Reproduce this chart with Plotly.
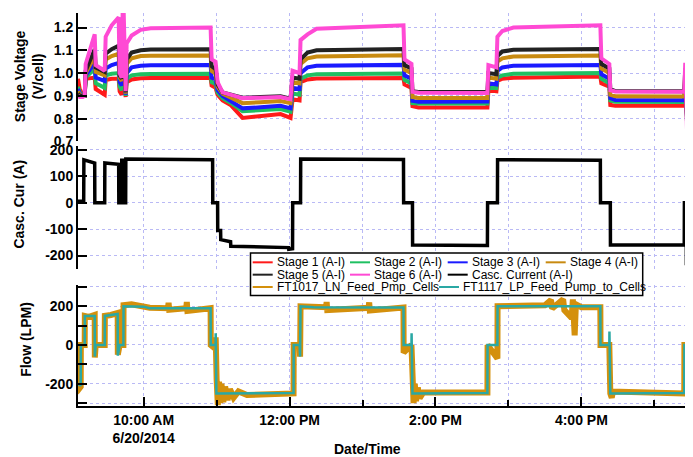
import plotly.graph_objects as go

DAY = "2014-06-20 "

# ---------------- Stage voltages (V/cell) ----------------
V_TIME = ["09:06:00", "09:07:24", "09:09:52", "09:11:30", "09:12:19", "09:19:44", "09:20:33",
          "09:27:57", "09:28:46", "09:33:42", "09:39:27", "09:40:16", "09:41:55", "09:42:44",
          "09:43:34", "09:44:23", "09:45:12", "09:46:01", "09:50:08", "09:57:32", "10:05:45",
          "10:55:04", "10:55:53", "10:59:10", "11:00:49", "11:04:56", "11:11:30", "11:21:22",
          "11:36:10", "11:52:36", "12:00:49", "12:02:28", "12:08:13", "12:09:02", "12:14:47",
          "12:22:11", "13:33:42", "13:34:31", "13:40:16", "13:41:05", "13:46:01", "14:42:44",
          "14:43:33", "14:50:08", "14:50:58", "14:55:00", "15:04:06", "16:15:37", "16:16:26",
          "16:23:00", "16:23:49", "16:27:56", "17:24:38", "17:25:27", "17:27:05", "17:28:44",
          "17:31:00"]
STAGE1 = [0.975, 0.930, 0.900, 0.900, 0.975, 0.980, 0.930, 0.905, 0.970, 0.975, 0.975, 0.920,
          0.905, 0.980, 0.975, 0.895, 0.895, 0.960, 0.972, 0.977, 0.978, 0.978, 0.945, 0.935,
          0.905, 0.880, 0.860, 0.803, 0.810, 0.820, 0.803, 0.885, 0.880, 0.960, 0.972, 0.976,
          0.978, 0.950, 0.935, 0.855, 0.849, 0.849, 0.925, 0.920, 0.965, 0.975, 0.980, 0.985,
          0.955, 0.940, 0.860, 0.857, 0.856, 0.940, 0.800, 0.850, 0.880]
STAGE2 = [0.940, 0.915, 0.900, 0.900, 0.980, 1.020, 0.955, 0.935, 0.990, 0.997, 1.000, 0.940,
          0.925, 1.010, 1.000, 0.900, 0.900, 0.975, 0.990, 0.995, 0.996, 0.997, 0.960, 0.952,
          0.915, 0.890, 0.870, 0.833, 0.838, 0.842, 0.830, 0.910, 0.905, 0.975, 0.990, 0.995,
          0.998, 0.970, 0.955, 0.868, 0.866, 0.866, 0.940, 0.935, 0.980, 0.990, 0.997, 1.000,
          0.975, 0.955, 0.880, 0.874, 0.873, 0.960, 0.790, 0.855, 0.885]
STAGE3 = [0.930, 0.910, 0.900, 0.900, 0.990, 1.045, 0.980, 0.965, 1.020, 1.035, 1.045, 0.960,
          0.945, 1.050, 1.040, 0.905, 0.905, 1.000, 1.025, 1.032, 1.034, 1.035, 0.980, 0.972,
          0.925, 0.900, 0.880, 0.845, 0.850, 0.856, 0.845, 0.935, 0.930, 1.000, 1.025, 1.032,
          1.036, 0.990, 0.975, 0.878, 0.874, 0.875, 0.955, 0.950, 1.010, 1.025, 1.032, 1.035,
          0.995, 0.975, 0.890, 0.882, 0.881, 0.980, 0.780, 0.860, 0.890]
STAGE4 = [0.920, 0.905, 0.900, 0.900, 1.000, 1.075, 1.005, 0.990, 1.060, 1.075, 1.085, 0.980,
          0.965, 1.090, 1.080, 0.910, 0.910, 1.040, 1.065, 1.075, 1.076, 1.077, 1.010, 0.998,
          0.940, 0.910, 0.895, 0.868, 0.872, 0.877, 0.868, 0.960, 0.955, 1.040, 1.065, 1.073,
          1.078, 1.015, 1.000, 0.895, 0.891, 0.891, 0.980, 0.975, 1.050, 1.065, 1.073, 1.077,
          1.020, 1.000, 0.905, 0.898, 0.897, 1.000, 0.770, 0.865, 0.895]
STAGE5 = [0.910, 0.900, 0.898, 0.900, 1.010, 1.105, 1.025, 1.005, 1.085, 1.105, 1.120, 0.990,
          0.975, 1.130, 1.120, 0.915, 0.915, 1.060, 1.090, 1.100, 1.104, 1.105, 1.030, 1.018,
          0.950, 0.915, 0.905, 0.892, 0.895, 0.898, 0.888, 0.980, 0.975, 1.060, 1.090, 1.100,
          1.106, 1.035, 1.020, 0.920, 0.917, 0.917, 1.000, 0.995, 1.075, 1.095, 1.102, 1.106,
          1.040, 1.020, 0.930, 0.921, 0.920, 1.020, 0.750, 0.870, 0.900]
STAGE6 = [0.900, 0.895, 0.895, 0.900, 1.040, 1.170, 1.035, 1.010, 1.160, 1.210, 1.245, 1.000,
          0.980, 1.270, 1.270, 0.920, 0.920, 1.130, 1.165, 1.190, 1.197, 1.200, 1.060, 1.050,
          0.960, 0.915, 0.905, 0.890, 0.892, 0.895, 0.885, 1.010, 1.000, 1.145, 1.170, 1.195,
          1.210, 1.060, 1.040, 0.918, 0.914, 0.913, 1.035, 1.025, 1.160, 1.185, 1.200, 1.210,
          1.065, 1.040, 0.925, 0.919, 0.918, 1.045, 0.710, 0.875, 0.900]

# ---------------- Cascade current (A) ----------------
I_TIME = ["09:06:00", "09:10:41", "09:10:50", "09:18:54", "09:19:44", "09:19:50", "09:27:57",
          "09:28:05", "09:38:38", "09:39:27", "09:39:35", "09:41:55", "09:42:00", "09:43:30",
          "09:43:35", "09:45:12", "09:45:20", "10:56:43", "10:56:50", "11:00:49", "11:00:55",
          "11:03:17", "11:03:25", "11:11:30", "11:11:40", "11:40:00", "11:59:11", "11:59:20",
          "12:02:28", "12:02:35", "12:09:02", "12:09:10", "13:33:42", "13:33:50", "13:41:05",
          "13:41:12", "14:42:44", "14:42:52", "14:50:58", "14:51:05", "16:15:37", "16:15:45",
          "16:23:49", "16:23:55", "17:24:38", "17:24:45", "17:26:15", "17:26:22", "17:27:55",
          "17:28:00", "17:29:30", "17:29:36", "17:31:00"]
I_VAL = [5, 5, 162, 150, 150, 0, 0,
         150, 145, 145, 0, 0, 160, 160,
         0, 0, 165, 162, 0, 0, -105,
         -105, -140, -148, -165, -168, -170, -176,
         -174, 0, 0, 165, 163, 0, 0,
         -160, -162, 0, 0, 162, 160, 0,
         0, -160, -160, 0, 0, -230, -230,
         0, 0, -230, -230]

# ---------------- Flow (LPM) ----------------
F1_TIME = ["09:06:00", "09:07:00", "09:08:13", "09:08:20", "09:11:30", "09:11:38", "09:15:00",
           "09:19:44", "09:19:50", "09:20:33", "09:27:57", "09:28:05", "09:33:00", "09:38:38",
           "09:38:45", "09:40:16", "09:43:20", "09:43:28", "09:50:00", "10:00:00", "10:05:00",
           "10:20:00", "10:20:30", "10:21:00", "10:35:00", "10:35:30", "10:36:00", "10:55:04",
           "10:55:12", "10:59:10", "10:59:15", "11:00:00", "11:01:00", "11:02:00", "11:03:00",
           "11:04:00", "11:05:30", "11:07:00", "11:09:00", "11:11:00", "11:14:00", "11:18:00",
           "11:25:00", "12:03:17", "12:03:25", "12:08:13", "12:08:40", "12:09:02", "12:30:00",
           "12:30:30", "12:31:00", "13:05:00", "13:05:30", "13:06:00", "13:33:42", "13:33:50",
           "13:40:16", "13:41:05", "13:42:00", "13:43:00", "13:44:00", "13:45:30", "13:47:00",
           "13:50:00", "14:42:44", "14:42:52", "14:50:58", "14:51:05", "15:10:00", "15:30:00",
           "15:35:00", "15:36:00", "15:45:00", "15:46:00", "15:52:00", "15:53:00", "15:54:30",
           "15:55:30", "16:00:00", "16:15:37", "16:15:45", "16:23:00", "16:23:49", "16:25:00",
           "16:26:00", "17:24:38", "17:24:45", "17:31:00"]
FT1017 = [-210, -225, -215, 0, 0, 150, 145,
          155, -65, 0, 0, 150, 155, 165,
          -50, 0, 0, 205, 210, 200, 192,
          190, 218, 182, 190, 222, 176, 190,
          0, -20, 40, -175, -310, -190, -300,
          -200, -295, -215, -285, -228, -272, -240,
          -258, -250, 0, 0, -60, 200, 195,
          222, 180, 192, 220, 178, 193, -40,
          0, -190, -300, -200, -290, -220, -275,
          -245, -245, 0, -70, 200, 200, 205,
          232, 188, 236, 180, 140, 235, 50,
          210, 195, 195, 0, 0, -250, -272,
          -240, -250, 0, 0]

F2_TIME = ["09:06:00", "09:07:24", "09:08:13", "09:08:20", "09:11:30", "09:11:38", "09:19:44",
           "09:19:50", "09:20:33", "09:27:57", "09:28:05", "09:38:38", "09:38:45", "09:40:16",
           "09:43:20", "09:43:28", "10:00:00", "10:05:00", "10:55:04", "10:55:12", "10:59:10",
           "10:59:15", "10:59:50", "12:03:17", "12:03:25", "12:08:13", "12:08:40", "12:09:02",
           "12:20:00", "13:33:42", "13:33:50", "13:40:16", "13:40:22", "13:41:05", "14:42:44",
           "14:42:52", "14:50:58", "14:51:05", "16:15:37", "16:15:45", "16:23:00", "16:23:06",
           "16:23:49", "17:24:38", "17:24:45", "17:31:00"]
FT1117 = [-200, -205, -210, 0, 0, 150, 150,
          -60, 0, 0, 150, 160, -55, 0,
          0, 200, 198, 190, 190, 0, 0,
          60, -250, -248, 0, 0, -60, 200,
          195, 193, 0, 0, 60, -250, -248,
          0, 0, 200, 200, 0, 0, 70,
          -250, -248, 0, 0]

# ---------------- Names / colours / ticks ----------------
STAGE_NAMES = ["Stage 1 (A-I)", "Stage 2 (A-I)", "Stage 3 (A-I)", "Stage 4 (A-I)",
               "Stage 5 (A-I)", "Stage 6 (A-I)"]
STAGE_COLORS = ["#ff1a1a", "#1fc062", "#1a1aff", "#c88a10", "#222222", "#ff4ad4"]
CURRENT_NAME = "Casc. Current (A-I)"
FLOW_NAMES = ["FT1017_LN_Feed_Pmp_Cells", "FT1117_LP_Feed_Pump_to_Cells"]
FLOW_COLORS = ["#d4900c", "#2aa8a4"]

X_TICKS = ["10:00:00", "12:00:00", "14:00:00", "16:00:00"]
X_TICK_TEXT = ["10:00 AM<br>6/20/2014", "12:00 PM", "2:00 PM", "4:00 PM"]
X_MINOR = ["09:00:00", "11:00:00", "13:00:00", "15:00:00", "17:00:00"]
V_TICKS = [0.7, 0.8, 0.9, 1.0, 1.1, 1.2]
I_TICKS = [-200, -100, 0, 100, 200]
F_TICKS = [-300, -200, -100, 0, 100, 200, 300]
F_TICK_TEXT = ["", "-200", "", "0", "", "200", ""]

# ---------------- geometry (page has an 8 px body offset) ----------------
OFF = 8
W, H = 693 - OFF, 457 - OFF
PX0, PX1, PY0, PY1 = 78, 692, 8, 406          # plot area in screen pixels
ML, MR, MT, MB = PX0 - OFF, W + OFF - PX1, PY0 - OFF, H + OFF - PY1
PW, PH = PX1 - PX0, PY1 - PY0


def fx(px):
    return (px - PX0) / PW


def fy(py):
    return (PY1 - py) / PH


def t(lst):
    return [DAY + s for s in lst]


FONT = "Liberation Sans, Arial, sans-serif"
GRID = "#b9b9f5"

fig = go.Figure()
for name, vals, col in zip(STAGE_NAMES, [STAGE1, STAGE2, STAGE3, STAGE4, STAGE5, STAGE6], STAGE_COLORS):
    fig.add_trace(go.Scatter(x=t(V_TIME), y=vals, mode="lines", name=name,
                             line=dict(color=col, width=4), xaxis="x", yaxis="y",
                             showlegend=False))
fig.add_trace(go.Scatter(x=t(I_TIME), y=I_VAL, mode="lines", name=CURRENT_NAME,
                         line=dict(color="#000000", width=3.5), xaxis="x", yaxis="y2",
                         showlegend=False))
fig.add_trace(go.Scatter(x=t(F1_TIME), y=FT1017, mode="lines", name=FLOW_NAMES[0],
                         line=dict(color=FLOW_COLORS[0], width=6), xaxis="x", yaxis="y3",
                         showlegend=False))
fig.add_trace(go.Scatter(x=t(F2_TIME), y=FT1117, mode="lines", name=FLOW_NAMES[1],
                         line=dict(color=FLOW_COLORS[1], width=2.5), xaxis="x", yaxis="y3",
                         showlegend=False))

yax_common = dict(anchor="x", showline=True, linecolor="black", linewidth=2,
                  ticks="inside", ticklen=9, tickwidth=2, tickcolor="black",
                  showgrid=True, gridcolor=GRID, griddash="dot", gridwidth=1,
                  zeroline=False, tickmode="array",
                  tickfont=dict(family=FONT, size=14, color="black", weight="bold"))

fig.update_layout(
    width=W, height=H, margin=dict(l=ML, r=MR, t=MT, b=MB, pad=0),
    paper_bgcolor="white", plot_bgcolor="white", showlegend=False,
    font=dict(family=FONT, color="black"),
    xaxis=dict(domain=[0, 1], anchor="y3", type="date",
               range=[DAY + "09:06:00", DAY + "17:31:00"],
               showline=True, linecolor="black", linewidth=2,
               ticks="inside", ticklen=9, tickwidth=2, tickcolor="black",
               tickmode="array", tickvals=t(X_TICKS), ticktext=X_TICK_TEXT,
               tickfont=dict(family=FONT, size=14, color="black", weight="bold"),
               showgrid=True, gridcolor=GRID, griddash="dot", gridwidth=1, zeroline=False,
               minor=dict(tickmode="array", tickvals=t(X_MINOR), ticks="inside", ticklen=6,
                          tickwidth=2, tickcolor="black", showgrid=True, gridcolor=GRID,
                          griddash="dot", gridwidth=1)),
    yaxis=dict(domain=[fy(138), 1.0], range=[0.7, 1.264], tickvals=V_TICKS,
               ticktext=[f"{v:.1f}" for v in V_TICKS], **yax_common),
    yaxis2=dict(domain=[fy(267), fy(143)], range=[-250, 213], tickvals=I_TICKS,
                ticktext=[str(v) for v in I_TICKS], **yax_common),
    yaxis3=dict(domain=[0, fy(283)], range=[-315, 312], tickvals=F_TICKS,
                ticktext=F_TICK_TEXT, **yax_common),
)

title_font = dict(family=FONT, size=14, color="black", weight="bold")
annotations = [
    dict(text="Stage Voltage<br>(V/cell)", x=fx(29), y=fy(72), textangle=-90),
    dict(text="Casc. Cur (A)", x=fx(19), y=fy(202), textangle=-90),
    dict(text="Flow (LPM)", x=fx(26), y=fy(339), textangle=-90),
    dict(text="Date/Time", x=fx(367), y=fy(450), textangle=0),
]
for a in annotations:
    fig.add_annotation(xref="paper", yref="paper", xanchor="center", yanchor="middle",
                       showarrow=False, font=title_font, **a)

# ---------------- legend box (built from the trace names / colours) ----------------
shapes = [dict(type="rect", xref="paper", yref="paper", x0=fx(250.5), x1=fx(642.7),
               y0=fy(294), y1=fy(251), line=dict(color="black", width=1.5),
               fillcolor="white", layer="above")]
legend_layout = [(277.7, 260.5), (375, 260.5), (472.7, 260.5), (570.7, 260.5),
                 (277.7, 273), (375, 273), (472.7, 273),
                 (277.7, 285.5), (464, 285.5)]
legend_entries = [(tr.name, tr.line.color) for tr in fig.data]
for (name, col), (tx, ty) in zip(legend_entries, legend_layout):
    shapes.append(dict(type="line", xref="paper", yref="paper", x0=fx(tx - 25), x1=fx(tx - 5),
                       y0=fy(ty), y1=fy(ty), line=dict(color=col, width=2), layer="above"))
    fig.add_annotation(xref="paper", yref="paper", x=fx(tx - 2), y=fy(ty), xanchor="left",
                       yanchor="middle", showarrow=False, text=name, borderpad=0,
                       font=dict(family=FONT, size=12, color="black"))
fig.update_layout(shapes=shapes)

fig.write_html("out.html")
